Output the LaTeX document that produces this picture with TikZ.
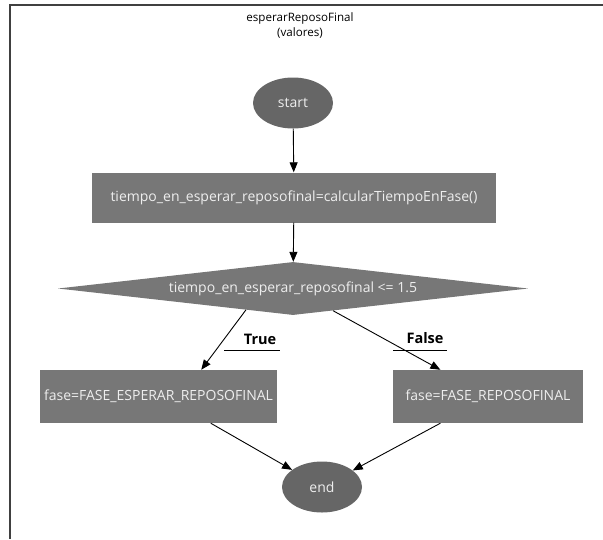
\documentclass[tikz,border=0pt]{standalone}
\usepackage{fontspec}
\setmainfont{Open Sans}
\usetikzlibrary{shapes.geometric,arrows.meta,calc}
\definecolor{boxgrey}{HTML}{777777}
\definecolor{ovalgrey}{HTML}{666666}
\definecolor{txtgrey}{HTML}{EEEEEE}
\tikzset{
  bodyfont/.style={font=\fontsize{14}{16}\selectfont},
  flowbox/.style={draw=none, fill=boxgrey, text=txtgrey, bodyfont,
    minimum height=50pt, inner sep=0pt},
  terminal/.style={ellipse, draw=none, fill=ovalgrey, text=txtgrey, bodyfont,
    minimum width=80pt, minimum height=51pt, inner sep=0pt},
  decision/.style={diamond, draw=none, fill=boxgrey, text=txtgrey, bodyfont,
    minimum width=470pt, minimum height=53pt, aspect=8.9, inner sep=0pt},
  flow/.style={draw=black, line width=0.9pt, -{Triangle[length=10pt,width=8pt]}},
  edgelabel/.style={font=\bfseries\fontsize{14.5}{17}\selectfont, inner sep=0pt}
}
\begin{document}
\begin{tikzpicture}[x=1pt,y=-1pt]
\useasboundingbox (0,0) rectangle (603,539);
% frame (top and left rules)
\draw[line width=1.6pt, black!75] (603,5) -- (10,5) -- (10,539);
% title
\node[font=\fontsize{11.6}{15}\selectfont, align=center] (title) at (300,25.5)
  {esperarReposoFinal\\(valores)};
% nodes
\node[terminal] (start) at (293,103) {start};
\node[flowbox, minimum width=404pt] (calc) at (294,197.5)
  {tiempo\_en\_esperar\_reposofinal=calcularTiempoEnFase()};
\node[decision] (dec) at (293,288.5) {tiempo\_en\_esperar\_reposofinal <= 1.5};
\node[flowbox, minimum width=237pt, minimum height=53pt] (yes) at (158.5,396.5)
  {fase=FASE\_ESPERAR\_REPOSOFINAL};
\node[flowbox, minimum width=190pt, minimum height=53pt] (no) at (488,396.5)
  {fase=FASE\_REPOSOFINAL};
\node[terminal] (endn) at (322,487) {end};
% edge end points
\coordinate (decL) at ($(dec.south)!0.2!(dec.west)$);
\coordinate (decR) at ($(dec.south)!0.17!(dec.east)$);
\coordinate (yesTop) at ($(yes.north west)!0.68!(yes.north east)$);
\coordinate (noTop) at ($(no.north west)!0.25!(no.north east)$);
\coordinate (yesBot) at ($(yes.south west)!0.72!(yes.south east)$);
\coordinate (noBot) at ($(no.south west)!0.25!(no.south east)$);
% connectors
\draw[flow] (start) -- (calc);
\draw[flow] (calc) -- (dec);
\draw[flow] (decL) -- (yesTop);
\draw[flow] (decR) -- (noTop);
\draw[flow] (yesBot) -- (endn);
\draw[flow] (noBot) -- (endn);
% branch labels
\node[edgelabel] (tlab) at (260,339.5) {True};
\node[edgelabel] (flab) at (425,338.5) {False};
\coordinate (tu1) at (224,350);
\coordinate (tu2) at (280,350);
\coordinate (fu1) at (393,350);
\coordinate (fu2) at (447,350);
\draw[line width=0.9pt] (tu1) -- (tu2);
\draw[line width=0.9pt] (fu1) -- (fu2);
\end{tikzpicture}
\end{document}
